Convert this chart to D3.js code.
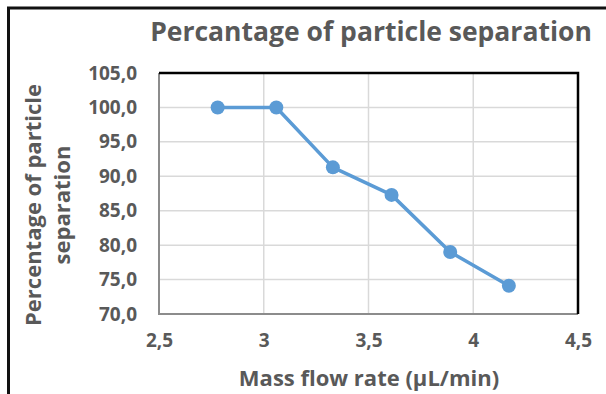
<!DOCTYPE html>
<html>
<head>
<meta charset="utf-8">
<script src="https://cdn.jsdelivr.net/npm/d3@7"></script>
<style>
  body { margin: 0; background: #fff; }
  text { font-family: "Open Sans", sans-serif; font-weight: bold; fill: #595959; }
</style>
</head>
<body>
<svg id="chart" width="606" height="394"></svg>
<script>
// data
const flowRates = [2.78, 3.06, 3.33, 3.61, 3.89, 4.17];
const separation = [100.0, 100.0, 91.3, 87.3, 79.0, 74.1];
const xTicks = [2.5, 3, 3.5, 4, 4.5];
const yTicks = [70, 75, 80, 85, 90, 95, 100, 105];

const svg = d3.select('#chart');
const margin = {top: 73, right: 28, bottom: 80, left: 159};
const width = 606 - margin.left - margin.right,
      height = 394 - margin.top - margin.bottom;

const fmt = d => d3.format('.1f')(d).replace('.', ',');
const fmtX = d => String(d).replace('.', ',');

// outer chart border (only left and top visible)
svg.append('path')
  .attr('d', 'M8.5,394 L8.5,8 L606,8')
  .attr('fill', 'none')
  .attr('stroke', '#111')
  .attr('stroke-width', 3);

const x = d3.scaleLinear().domain([2.5, 4.5]).range([0, width]);
const y = d3.scaleLinear().domain([70, 105]).range([height, 0]);

const g = svg.append('g')
  .attr('transform', 'translate(' + margin.left + ',' + margin.top + ')');

// gridlines
g.append('g').selectAll('line').data(xTicks.slice(1, -1)).join('line')
  .attr('x1', d => x(d)).attr('x2', d => x(d))
  .attr('y1', 0).attr('y2', height)
  .attr('stroke', '#d9d9d9').attr('stroke-width', 1.5);
g.append('g').selectAll('line').data(yTicks.slice(1, -1)).join('line')
  .attr('x1', 0).attr('x2', width)
  .attr('y1', d => y(d)).attr('y2', d => y(d))
  .attr('stroke', '#d9d9d9').attr('stroke-width', 1.5);

// plot frame: grey left/bottom, black top/right
g.append('path')
  .attr('d', 'M0,0 L0,' + height + ' L' + width + ',' + height)
  .attr('fill', 'none').attr('stroke', '#8c8c8c').attr('stroke-width', 2);
g.append('path')
  .attr('d', 'M0,0 L' + width + ',0 L' + width + ',' + height)
  .attr('fill', 'none').attr('stroke', '#000').attr('stroke-width', 2.5);

// axes (labels only)
const yAxis = g.append('g').call(d3.axisLeft(y).tickValues(yTicks).tickFormat(fmt).tickSize(0).tickPadding(22));
yAxis.select('.domain').remove();
yAxis.selectAll('text').style('font-size', '19px').attr('fill', '#595959');

const xAxis = g.append('g')
  .attr('transform', 'translate(0,' + height + ')')
  .call(d3.axisBottom(x).tickValues(xTicks).tickFormat(fmtX).tickSize(0).tickPadding(20));
xAxis.select('.domain').remove();
xAxis.selectAll('text').style('font-size', '19px').attr('fill', '#595959');

// series
const line = d3.line()
  .x((d, i) => x(flowRates[i]))
  .y(d => y(d));

g.append('path')
  .datum(separation)
  .attr('fill', 'none')
  .attr('stroke', '#5b9bd5')
  .attr('stroke-width', 3.5)
  .attr('stroke-linejoin', 'round')
  .attr('d', line);

g.selectAll('circle.pt').data(separation).join('circle')
  .attr('class', 'pt')
  .attr('cx', (d, i) => x(flowRates[i]))
  .attr('cy', d => y(d))
  .attr('r', 7)
  .attr('fill', '#5b9bd5');

// titles
svg.append('text')
  .attr('x', 371).attr('y', 41)
  .attr('text-anchor', 'middle')
  .style('font-size', '26.5px')
  .text('Percantage of particle separation');

svg.append('text')
  .attr('x', 369).attr('y', 386)
  .attr('text-anchor', 'middle')
  .style('font-size', '22px')
  .text('Mass flow rate (µL/min)');

const yt = svg.append('text')
  .attr('transform', 'translate(0,205) rotate(-90)')
  .attr('text-anchor', 'middle')
  .style('font-size', '22px');
yt.append('tspan').attr('x', 0).attr('y', 41).text('Percentage of particle');
yt.append('tspan').attr('x', 0).attr('y', 70).text('separation');
</script>
</body>
</html>
